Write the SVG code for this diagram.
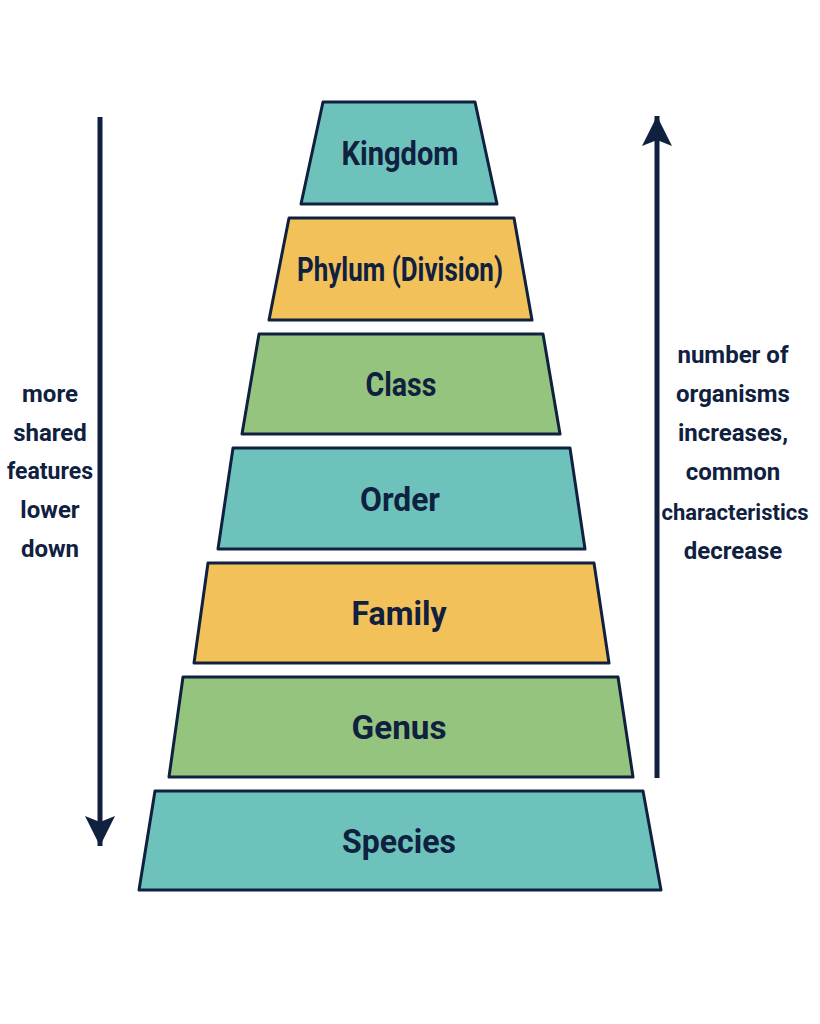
<svg xmlns="http://www.w3.org/2000/svg" width="820" height="1024" viewBox="0 0 820 1024">
<style>
.t{stroke:#10203f;stroke-width:3;stroke-linejoin:round}
.teal{fill:#6dc3bc}.yel{fill:#f2c15a}.grn{fill:#94c47d}
.lb{font-family:Roboto,"Liberation Sans",sans-serif;font-weight:bold;font-size:33px;fill:#10203f;text-anchor:middle}
.sd{font-family:Roboto,"Liberation Sans",sans-serif;font-weight:bold;font-size:24px;fill:#10203f;text-anchor:middle}
.ar{stroke:#10203f;stroke-width:5;fill:none}
</style>
<defs>
<marker id="ah2" viewBox="0 0 30 30" refX="30" refY="15" markerWidth="30" markerHeight="30" markerUnits="userSpaceOnUse" orient="auto"><path d="M0,0L30,15L0,30L6,15z" fill="#10203f"/></marker></defs>
<rect width="820" height="1024" fill="#fff"/>
<g id="kingdom"><polygon class="t teal" points="323,102 475,102 497,204 301,204"/><text class="lb" x="400" y="165" textLength="117" lengthAdjust="spacingAndGlyphs">Kingdom</text></g>
<g id="phylum"><polygon class="t yel" points="289,218 514,218 532,320 269,320"/><text class="lb" x="400" y="281" textLength="206" lengthAdjust="spacingAndGlyphs">Phylum (Division)</text></g>
<g id="class"><polygon class="t grn" points="259,334 543,334 560,434 242,434"/><text class="lb" x="401" y="396" textLength="71" lengthAdjust="spacingAndGlyphs">Class</text></g>
<g id="order"><polygon class="t teal" points="233,448 570,448 585,549 218,549"/><text class="lb" x="400" y="511" textLength="80" lengthAdjust="spacingAndGlyphs">Order</text></g>
<g id="family"><polygon class="t yel" points="208,563 594,563 609,663 194,663"/><text class="lb" x="399" y="625" textLength="95" lengthAdjust="spacingAndGlyphs">Family</text></g>
<g id="genus"><polygon class="t grn" points="183,677 618,677 633,777 169,777"/><text class="lb" x="399" y="739" textLength="95" lengthAdjust="spacingAndGlyphs">Genus</text></g>
<g id="species"><polygon class="t teal" points="155,791 643,791 661,890 139,890"/><text class="lb" x="399" y="853" textLength="114" lengthAdjust="spacingAndGlyphs">Species</text></g>
<g id="connectors">
<line class="ar" x1="100" y1="117" x2="100" y2="846" marker-end="url(#ah2)"/>
<line class="ar" x1="657" y1="778" x2="657" y2="116" marker-end="url(#ah2)"/>
</g>
<g id="left-label"><text class="sd" x="50" y="402">more</text><text class="sd" x="50" y="441">shared</text><text class="sd" x="50" y="479" textLength="86" lengthAdjust="spacingAndGlyphs">features</text><text class="sd" x="50" y="518">lower</text><text class="sd" x="50" y="557">down</text></g>
<g id="right-label"><text class="sd" x="733" y="363">number of</text><text class="sd" x="733" y="402">organisms</text><text class="sd" x="733" y="441">increases,</text><text class="sd" x="733" y="480">common</text><text class="sd" x="735" y="520" style="font-size:22px">characteristics</text><text class="sd" x="733" y="559">decrease</text></g>
</svg>
